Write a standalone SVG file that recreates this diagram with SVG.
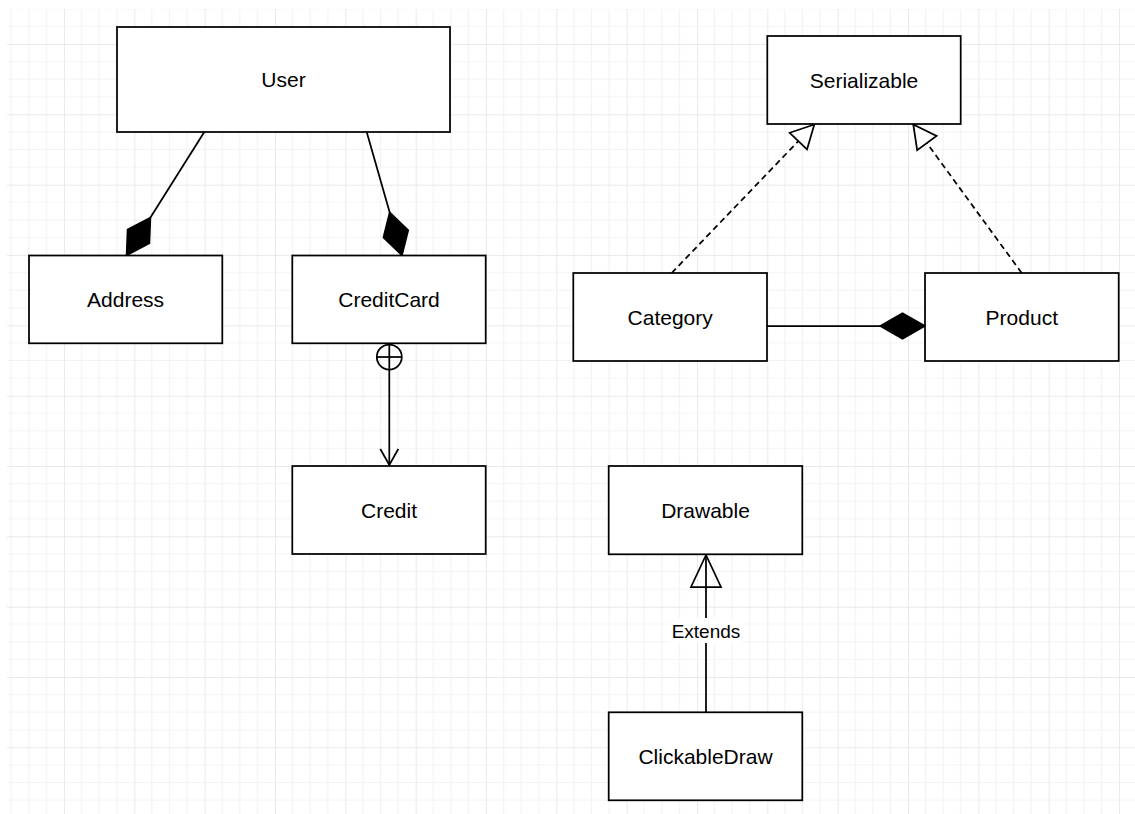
<svg xmlns="http://www.w3.org/2000/svg" width="1135" height="814" viewBox="0 0 1135 814">
  <style>
    .node rect { fill: #ffffff; stroke: #000000; stroke-width: 1.75; }
    .node text { font-family: "Liberation Sans", Arial, sans-serif; font-size: 21px; fill: #000000; text-anchor: middle; }
    .edge { fill: none; stroke: #000000; stroke-width: 1.75; }
    .dash { stroke-dasharray: 6 4; }
    .lbl { font-family: "Liberation Sans", Arial, sans-serif; font-size: 19px; fill: #000000; text-anchor: middle; }
  </style>
  <defs>
    <pattern id="grid" patternUnits="userSpaceOnUse" x="64" y="44" width="70.333" height="70.333">
      <g stroke="#f3f3f3" stroke-width="1.2" fill="none">
        <line x1="17.58" y1="0" x2="17.58" y2="70.333"/>
        <line x1="35.17" y1="0" x2="35.17" y2="70.333"/>
        <line x1="52.75" y1="0" x2="52.75" y2="70.333"/>
        <line x1="0" y1="17.58" x2="70.333" y2="17.58"/>
        <line x1="0" y1="35.17" x2="70.333" y2="35.17"/>
        <line x1="0" y1="52.75" x2="70.333" y2="52.75"/>
      </g>
      <g stroke="#e3e3e3" stroke-width="1.5" fill="none">
        <line x1="0" y1="0" x2="0" y2="70.333"/>
        <line x1="0" y1="0" x2="70.333" y2="0"/>
      </g>
    </pattern>
    <marker id="diamond" markerUnits="userSpaceOnUse" orient="auto" markerWidth="50" markerHeight="30" refX="45" refY="15" overflow="visible">
      <path d="M45,15 L22.5,2 L0,15 L22.5,28 Z" fill="#000000" stroke="#000000" stroke-width="1.5" stroke-dasharray="none"/>
    </marker>
    <marker id="tri" markerUnits="userSpaceOnUse" orient="auto" markerWidth="30" markerHeight="30" refX="24" refY="13" overflow="visible">
      <path d="M24,13 L1,1 L1,25 Z" fill="#ffffff" stroke="#000000" stroke-width="1.75" stroke-dasharray="none"/>
    </marker>
    <marker id="triBig" markerUnits="userSpaceOnUse" orient="auto" markerWidth="40" markerHeight="36" refX="33" refY="16" overflow="visible">
      <path d="M33,16 L1,1 L1,31 Z" fill="none" stroke="#000000" stroke-width="1.75" stroke-dasharray="none"/>
    </marker>
    <marker id="open" markerUnits="userSpaceOnUse" orient="auto" markerWidth="20" markerHeight="24" refX="17" refY="10" overflow="visible">
      <path d="M1,1 L17,10 L1,19" fill="none" stroke="#000000" stroke-width="1.75" stroke-dasharray="none"/>
    </marker>
  </defs>

  <rect x="0" y="0" width="1135" height="814" fill="#ffffff"/>
  <rect x="7" y="9" width="1128" height="805" fill="url(#grid)"/>

  <g id="connectors">
    <line class="edge" x1="204.3" y1="132" x2="126.5" y2="255.5" marker-end="url(#diamond)"/>
    <line class="edge" x1="366.7" y1="132" x2="402" y2="255.5" marker-end="url(#diamond)"/>
    <line class="edge" x1="389.3" y1="343" x2="389.3" y2="465" marker-end="url(#open)"/>
    <circle class="edge" cx="389.3" cy="357" r="12.5"/>
    <line class="edge" x1="376.8" y1="357" x2="401.8" y2="357"/>
    <line class="edge" x1="767" y1="326" x2="925" y2="326" marker-end="url(#diamond)"/>
    <line class="edge dash" x1="671.7" y1="273" x2="814.3" y2="124.5" marker-end="url(#tri)"/>
    <line class="edge dash" x1="1021.7" y1="273" x2="913.3" y2="124.5" marker-end="url(#tri)"/>
    <line class="edge" x1="706" y1="712" x2="706" y2="555" marker-end="url(#triBig)"/>
    <rect x="670" y="618" width="72" height="25" fill="#ffffff"/>
    <text class="lbl" x="706" y="637.5">Extends</text>
  </g>

  <g id="node-user" class="node">
    <rect x="117" y="27" width="333" height="105"/>
    <text x="283.5" y="86.5">User</text>
  </g>
  <g id="node-address" class="node">
    <rect x="29" y="255.5" width="193.3" height="87.8"/>
    <text x="125.6" y="306.8">Address</text>
  </g>
  <g id="node-creditcard" class="node">
    <rect x="292.3" y="255.5" width="193.4" height="87.8"/>
    <text x="389" y="306.8">CreditCard</text>
  </g>
  <g id="node-credit" class="node">
    <rect x="292.3" y="466" width="193.4" height="88"/>
    <text x="389" y="517.5">Credit</text>
  </g>
  <g id="node-serializable" class="node">
    <rect x="767.3" y="36" width="193.4" height="88"/>
    <text x="864" y="87.5">Serializable</text>
  </g>
  <g id="node-category" class="node">
    <rect x="573.3" y="273" width="193.7" height="88"/>
    <text x="670.2" y="324.5">Category</text>
  </g>
  <g id="node-product" class="node">
    <rect x="925" y="273" width="193.7" height="88"/>
    <text x="1021.8" y="324.5">Product</text>
  </g>
  <g id="node-drawable" class="node">
    <rect x="608.7" y="466" width="193.6" height="88.3"/>
    <text x="705.5" y="517.5">Drawable</text>
  </g>
  <g id="node-clickabledraw" class="node">
    <rect x="608.7" y="712.3" width="193.6" height="88"/>
    <text x="705.5" y="764">ClickableDraw</text>
  </g>
</svg>
